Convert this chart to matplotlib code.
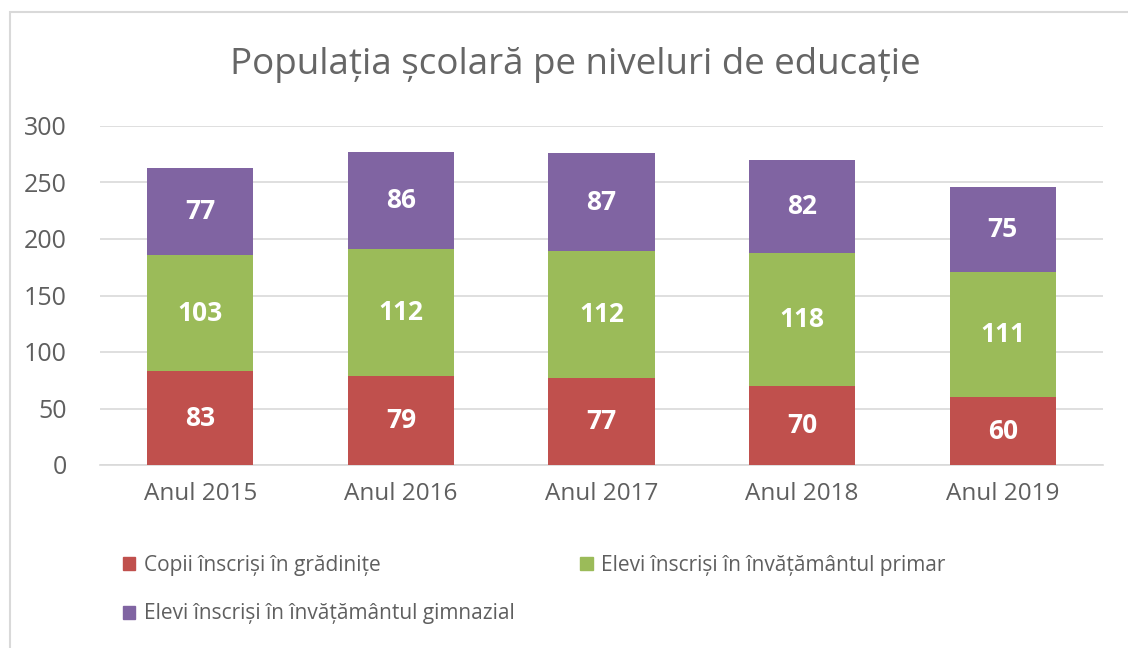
import numpy as np
import matplotlib
matplotlib.use('Agg')
import matplotlib.pyplot as plt
from matplotlib.patches import Rectangle, Patch

plt.rcParams['font.family'] = ['Open Sans', 'DejaVu Sans']

# Data
years = ['Anul 2015', 'Anul 2016', 'Anul 2017', 'Anul 2018', 'Anul 2019']
gradinite = [83, 79, 77, 70, 60]
primar = [103, 112, 112, 118, 111]
gimnazial = [77, 86, 87, 82, 75]
series_names = ['Copii înscriși în grădinițe',
                'Elevi înscriși în învățământul primar',
                'Elevi înscriși în învățământul gimnazial']
colors = ['#C0504D', '#9BBB59', '#8064A2']
text_gray = '#5F5F5F'

fig = plt.figure(figsize=(11.28, 6.48), dpi=100)
ax = fig.add_axes([100 / 1128, 1 - 465 / 648, 1003 / 1128, 339 / 648])

x = np.arange(len(years))
bottom = np.zeros(len(years))
for vals, col in zip([gradinite, primar, gimnazial], colors):
    bars = ax.bar(x, vals, width=0.53, bottom=bottom, color=col, zorder=3)
    for b, v in zip(bars, vals):
        ax.text(b.get_x() + b.get_width() / 2, b.get_y() + v / 2, str(v),
                ha='center', va='center', color='white', fontsize=19,
                fontweight='bold', zorder=4)
    bottom += np.array(vals)

ax.set_xlim(-0.5, len(years) - 0.5)
ax.set_ylim(0, 300)
ax.set_yticks(range(0, 301, 50))
ax.set_xticks(x)
ax.set_xticklabels(years)
ax.yaxis.grid(True, color='#D9D9D9', linewidth=1.2, zorder=0)
for s in ['top', 'right', 'left']:
    ax.spines[s].set_visible(False)
ax.spines['bottom'].set_color('#D9D9D9')
ax.spines['bottom'].set_linewidth(1.2)
ax.tick_params(axis='y', length=0, labelsize=18, colors=text_gray, pad=24)
ax.tick_params(axis='x', length=0, labelsize=17.5, colors=text_gray, pad=12)

fig.text(575 / 1128, 1 - 65 / 648, 'Populația școlară pe niveluri de educație',
         ha='center', va='center', fontsize=26.5, color='#666666')

# legend in two rows
handles = [Patch(color=c) for c in colors]
fig.legend(handles[:2], series_names[:2], loc='center left',
           bbox_to_anchor=(104 / 1128, 1 - 565 / 648), ncol=2, frameon=False,
           fontsize=15, labelcolor=text_gray, handlelength=0.6, handleheight=0.6,
           handletextpad=0.4, columnspacing=9.6)
fig.legend(handles[2:], series_names[2:], loc='center left',
           bbox_to_anchor=(104 / 1128, 1 - 614 / 648), frameon=False,
           fontsize=15, labelcolor=text_gray, handlelength=0.6, handleheight=0.6,
           handletextpad=0.4)

# chart border (right and bottom edges fall outside the picture)
fig.patches.append(Rectangle((10 / 1128, -0.05), 1.1, 1.05 - 12 / 648,
                             transform=fig.transFigure, fill=False,
                             edgecolor='#D9D9D9', linewidth=1.5))

fig.savefig('out.png', dpi=100)
